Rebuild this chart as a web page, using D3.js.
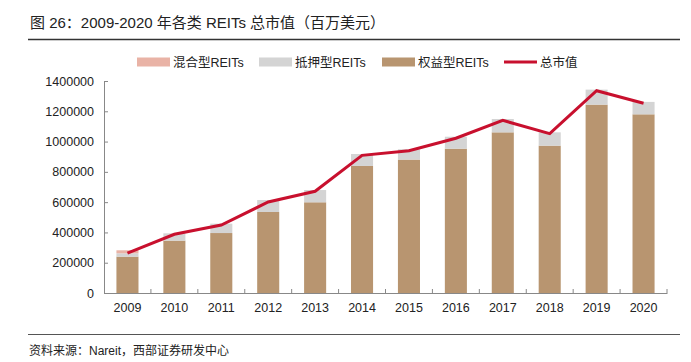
<!DOCTYPE html>
<html>
<head>
<meta charset="utf-8">
<script src="https://cdn.jsdelivr.net/npm/d3@7"></script>
<style>
  body { margin: 0; background: #fff; }
  text { font-family: "Liberation Sans", Arial, "Noto Sans CJK SC", sans-serif; fill: #222; }
</style>
</head>
<body>
<svg id="chart" width="691" height="362"></svg>
<script>
(function() {

  var years = ["2009", "2010", "2011", "2012", "2013", "2014", "2015", "2016", "2017", "2018", "2019", "2020"];
  var equity = [240000, 346000, 396000, 535000, 599000, 839000, 881000, 953000, 1061000, 973000, 1244000, 1180000];
  var mortgage = [22000, 48000, 62000, 79000, 81000, 79000, 68000, 79000, 88000, 88000, 99000, 82000];
  var hybrid = [20000, 0, 0, 0, 0, 0, 0, 0, 0, 0, 0, 0];
  var total = [264000, 388000, 449000, 601000, 672000, 909000, 940000, 1022000, 1140000, 1052000, 1336000, 1253000];
  var yTicks = [0, 200000, 400000, 600000, 800000, 1000000, 1200000, 1400000];

  var seriesNames = ["混合型REITs", "抵押型REITs", "权益型REITs", "总市值"];
  var colors = {
    hybrid: "#e9b3a6",
    mortgage: "#d4d4d4",
    equity: "#b89570",
    total: "#c8102e"
  };

  var svg = d3.select("#chart");

  var left = 104, right = 667, top = 81, bottom = 293;

  var x = d3.scaleBand()
      .domain(years)
      .range([left, right])
      .paddingInner(0.53)
      .paddingOuter(0.265);

  var xOuter = d3.scaleBand()
      .domain(years)
      .range([left, right]);

  var y = d3.scaleLinear()
      .domain([0, 1400000])
      .range([bottom, top]);

  // title
  svg.append("text")
      .attr("x", 30)
      .attr("y", 28)
      .style("font-size", "15px")
      .text("图 26：2009-2020 年各类 REITs 总市值（百万美元）");

  svg.append("line")
      .attr("x1", 28).attr("x2", 680)
      .attr("y1", 39.5).attr("y2", 39.5)
      .attr("stroke", "#333")
      .attr("stroke-width", 1.3);

  // bars (stacked: equity, mortgage, hybrid)
  var rows = years.map((yr, i) => ({year: yr, equity: equity[i], mortgage: mortgage[i], hybrid: hybrid[i]}));
  var stack = d3.stack().keys(["equity", "mortgage", "hybrid"])(rows);

  svg.append("g")
    .selectAll("g").data(stack).enter().append("g")
      .attr("fill", d => colors[d.key])
    .selectAll("rect").data(d => d).enter().append("rect")
      .attr("x", d => x(d.data.year))
      .attr("y", d => y(d[1]))
      .attr("width", x.bandwidth())
      .attr("height", d => Math.max(0, y(d[0]) - y(d[1])));

  // axes
  var yAxis = d3.axisLeft(y)
      .tickValues(yTicks)
      .tickSize(-4)
      .tickPadding(10)
      .tickFormat(d3.format("d"));

  var yG = svg.append("g")
      .attr("transform", "translate(" + left + ",0)")
      .call(yAxis);

  var xAxis = d3.axisBottom(xOuter)
      .tickSize(0)
      .tickPadding(10);

  var xG = svg.append("g")
      .attr("transform", "translate(0," + bottom + ")")
      .call(xAxis);

  xG.selectAll(".sep")
      .data(years.slice(1).concat(["end"])).enter().append("line")
      .attr("x1", (d, i) => left + xOuter.step() * (i + 1))
      .attr("x2", (d, i) => left + xOuter.step() * (i + 1))
      .attr("y1", 0).attr("y2", -4)
      .attr("stroke", "#888");

  [yG, xG].forEach(g => {
    g.select(".domain").attr("stroke", "#888");
    g.selectAll(".tick line").attr("stroke", "#888");
    g.selectAll("text").style("font-size", "12.5px").attr("fill", "#222");
  });

  // total line
  var line = d3.line()
      .x((d, i) => x(years[i]) + x.bandwidth() / 2)
      .y(d => y(d));

  svg.append("path")
      .datum(total)
      .attr("d", line)
      .attr("fill", "none")
      .attr("stroke", colors.total)
      .attr("stroke-width", 3);

  // legend
  var legendItems = [
    {name: seriesNames[0], color: colors.hybrid, x: 137, type: "rect"},
    {name: seriesNames[1], color: colors.mortgage, x: 259, type: "rect"},
    {name: seriesNames[2], color: colors.equity, x: 382, type: "rect"},
    {name: seriesNames[3], color: colors.total, x: 504, type: "line"}
  ];

  var legend = svg.append("g");
  legendItems.forEach(item => {
    if (item.type == "rect") {
      legend.append("rect")
          .attr("x", item.x).attr("y", 57.5)
          .attr("width", 33).attr("height", 9)
          .attr("fill", item.color);
    } else {
      legend.append("line")
          .attr("x1", item.x).attr("x2", item.x + 33)
          .attr("y1", 62).attr("y2", 62)
          .attr("stroke", item.color)
          .attr("stroke-width", 3);
    }
    legend.append("text")
        .attr("x", item.x + 36)
        .attr("y", 66.5)
        .style("font-size", "12.5px")
        .text(item.name);
  });

  // footer
  svg.append("line")
      .attr("x1", 28).attr("x2", 680)
      .attr("y1", 334.5).attr("y2", 334.5)
      .attr("stroke", "#555")
      .attr("stroke-width", 1.2);

  svg.append("text")
      .attr("x", 29)
      .attr("y", 355)
      .style("font-size", "12px")
      .text("资料来源：Nareit，西部证券研发中心");

})();
</script>
</body>
</html>
